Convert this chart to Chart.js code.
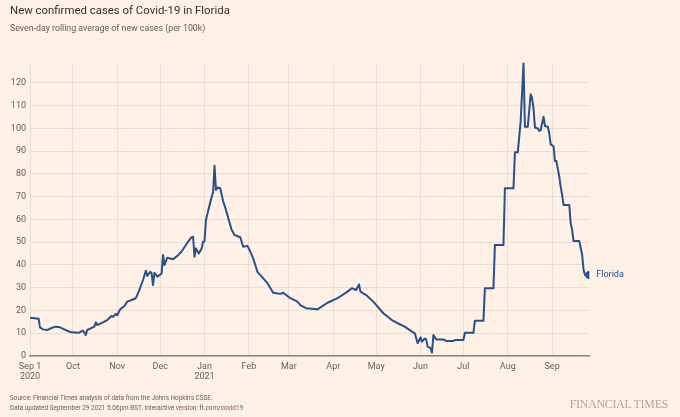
<!DOCTYPE html>
<html>
<head>
<meta charset="utf-8">
<script src="https://cdn.jsdelivr.net/npm/chart.js@4"></script>
<style>
  html, body { margin: 0; padding: 0; background: #fff1e5; }
  #wrap { position: relative; width: 680px; height: 417px; background: #fff1e5; overflow: hidden; }
  #chart { position: absolute; left: 0; top: 0; }
  .txt { position: absolute; left: 10px; font-family: Roboto, sans-serif; white-space: nowrap; }
  #title { top: 3px; font-size: 11.4px; color: #33302e; }
  #subtitle { top: 23px; font-size: 8.8px; color: #66605c; }
  #source { top: 394px; font-size: 6.4px; line-height: 9.5px; color: #66605c; }
  #ft { position: absolute; right: 12px; top: 397px; font-family: "Liberation Serif", "DejaVu Serif", serif;
        font-size: 11.8px; color: #b0a79f; letter-spacing: -0.2px; }
</style>
</head>
<body>
<div id="wrap">
  <canvas id="chart" width="680" height="417"></canvas>
  <div class="txt" id="title">New confirmed cases of Covid-19 in Florida</div>
  <div class="txt" id="subtitle">Seven-day rolling average of new cases (per 100k)</div>
  <div class="txt" id="source">Source: Financial Times analysis of data from the Johns Hopkins CSSE.<br>Data updated September 29 2021 5.06pm BST. Interactive version: ft.com/covid19</div>
  <div id="ft">FINANCIAL TIMES</div>
</div>
<script>
// days since Sep 1 2020, and the 7-day average (per 100k)
const days = [
  0, 6, 7, 8, 9, 12, 15, 18, 21, 24, 26, 29, 34, 37, 39, 40, 42, 45, 46, 47,
  51, 54, 57, 58, 60, 61, 63, 66, 68, 71, 74, 76, 79, 81, 82, 84, 85, 86, 87, 89,
  92, 93, 94, 96, 100, 103, 106, 110, 113, 114, 115, 116, 118, 120, 121, 122, 123, 127, 128, 129,
  130, 131, 133, 135, 137, 138, 141, 143, 147, 149, 152, 154, 156, 159, 162, 166, 170, 175, 177, 182,
  187, 189, 193, 201, 208, 215, 222, 225, 228, 230, 231, 235, 240, 247, 253, 257, 262, 267, 269, 271,
  273, 274, 276, 277, 278, 280, 281, 282, 284, 289, 291, 296, 297, 303, 304, 310, 311, 317, 318, 324,
  325, 331, 332, 338, 339, 341, 343, 345, 346, 348, 350, 351, 352, 353, 355, 356, 357, 359, 360, 362,
  363, 364, 366, 367, 368, 370, 371, 372, 373, 377, 378, 379, 380, 384, 386, 387, 388, 391
];
const cases = [
  16.8, 16.4, 12.5, 12.2, 11.7, 11.4, 12.3, 12.9, 12.6, 11.7, 11.1, 10.4, 10.2, 11.2, 9.2, 11.5, 12.0, 12.9, 14.8, 13.6,
  14.8, 15.8, 17.6, 17.2, 18.5, 17.9, 20.5, 22.0, 23.9, 24.6, 25.4, 28.3, 33.4, 37.5, 35.2, 37.0, 36.5, 31.2, 36.6, 34.9,
  36.2, 44.4, 40.0, 43.2, 42.5, 44.0, 45.9, 49.8, 52.2, 52.4, 43.6, 47.3, 45.1, 47.3, 50.2, 50.4, 59.8, 70.0, 72.0, 83.6,
  73.0, 74.1, 73.7, 68.0, 64.2, 62.0, 55.4, 53.2, 52.2, 48.0, 48.4, 45.9, 42.9, 37.0, 34.9, 32.0, 27.8, 27.3, 27.8, 25.4,
  23.9, 22.4, 21.0, 20.5, 23.4, 25.4, 28.3, 29.8, 29.0, 31.5, 28.3, 26.8, 23.9, 18.8, 15.8, 14.4, 12.9, 10.7, 10.0, 5.6,
  8.2, 6.3, 7.7, 7.3, 4.1, 3.5, 1.5, 9.2, 7.3, 7.3, 6.6, 6.6, 7.0, 7.0, 10.2, 10.2, 15.5, 15.5, 29.8, 29.8,
  48.8, 48.8, 73.7, 73.7, 89.5, 89.5, 103.0, 128.7, 100.8, 100.8, 115.0, 113.2, 108.9, 100.4, 100.0, 98.9, 99.3, 105.2, 101.1, 100.8,
  97.9, 93.0, 92.2, 85.7, 85.7, 78.8, 74.4, 70.8, 66.4, 66.4, 58.3, 55.4, 50.5, 50.5, 44.4, 37.8, 35.6, 35.6
];
const monthTicks = [0, 30, 61, 91, 122, 153, 181, 212, 242, 273, 303, 334, 365];
const monthLabels = [["Sep 1", "2020"], "Oct", "Nov", "Dec", ["Jan", "2021"], "Feb", "Mar", "Apr", "May", "Jun", "Jul", "Aug", "Sep"];
const yTicks = [0, 10, 20, 30, 40, 50, 60, 70, 80, 90, 100, 110, 120];
const seriesName = "Florida";

const lineBlue = "#27508f";
const gridColor = "#eaded3";
const tickColor = "#66605c";

// end-of-line dot label
const endLabel = {
  id: "endLabel",
  afterDatasetsDraw(chart) {
    const meta = chart.getDatasetMeta(0);
    const last = meta.data[meta.data.length - 1];
    const ctx = chart.ctx;
    ctx.save();
    ctx.font = "9px Roboto, sans-serif";
    ctx.fillStyle = lineBlue;
    ctx.textBaseline = "middle";
    ctx.fillText(seriesName, last.x + 7, last.y);
    ctx.restore();
  }
};

new Chart(document.getElementById("chart"), {
  type: "line",
  data: {
    datasets: [{
      label: seriesName,
      data: days.map((d, i) => ({ x: d, y: cases[i] })),
      borderColor: lineBlue,
      backgroundColor: lineBlue,
      borderWidth: 2,
      tension: 0,
      borderJoinStyle: "round",
      pointRadius: (c) => c.dataIndex === days.length - 1 ? 3 : 0,
      pointHoverRadius: 0
    }]
  },
  options: {
    responsive: false,
    animation: false,
    events: [],
    layout: { padding: { left: 0, top: 62.5, right: 90.7, bottom: 31 } },
    plugins: { legend: { display: false }, tooltip: { enabled: false } },
    scales: {
      x: {
        type: "linear",
        min: 0,
        max: days[days.length - 1],
        afterBuildTicks: (s) => { s.ticks = monthTicks.map(v => ({ value: v })); },
        afterFit: (s) => { s.height = 30; },
        grid: { color: gridColor, drawTicks: false },
        border: { display: true, color: "#8c847e", width: 1.5 },
        ticks: {
          autoSkip: false,
          maxRotation: 0,
          padding: 5,
          color: tickColor,
          font: { family: "Roboto", size: 9 },
          callback: (v, i) => monthLabels[i]
        }
      },
      y: {
        min: 0,
        max: 129,
        afterBuildTicks: (s) => { s.ticks = yTicks.map(v => ({ value: v })); },
        afterFit: (s) => { s.width = 30; },
        grid: { color: gridColor, drawTicks: false },
        border: { display: false },
        ticks: {
          padding: 4,
          color: tickColor,
          font: { family: "Roboto", size: 9 }
        }
      }
    }
  },
  plugins: [endLabel]
});
</script>
</body>
</html>
